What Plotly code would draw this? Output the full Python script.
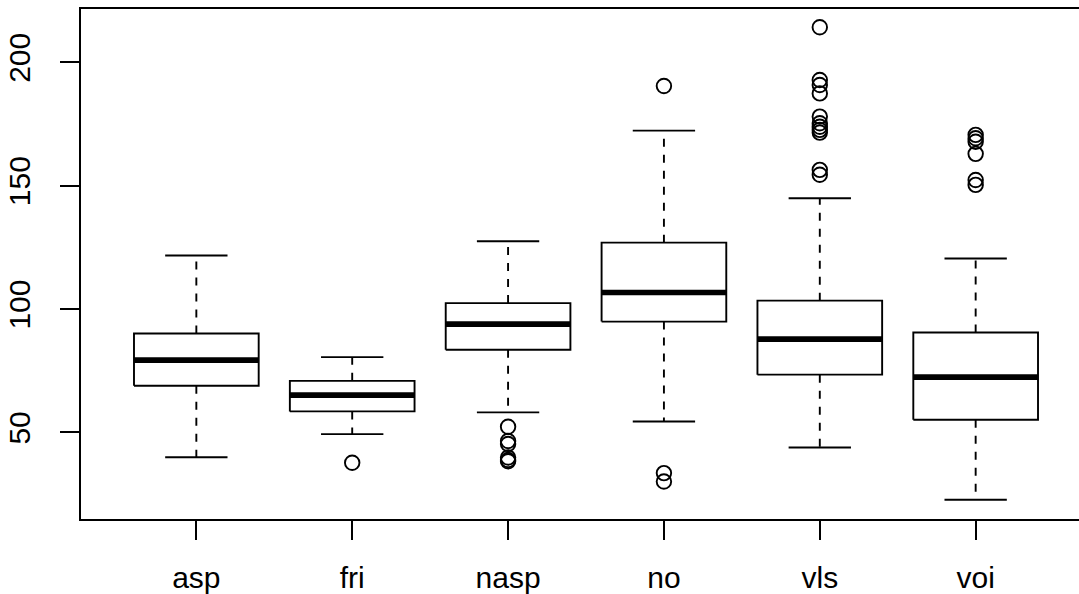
import plotly.graph_objects as go

categories = ["asp", "fri", "nasp", "no", "vls", "voi"]
lower_whisker = [39.9, 49.3, 58.1, 54.4, 43.9, 22.7]
q1 = [68.9, 58.5, 83.5, 94.9, 73.4, 55.1]
median = [79.3, 65.1, 93.9, 106.7, 87.8, 72.4]
q3 = [90.1, 70.9, 102.4, 126.9, 103.4, 90.5]
upper_whisker = [121.7, 80.5, 127.5, 172.3, 144.9, 120.5]
outliers = {
    "asp": [],
    "fri": [37.7],
    "nasp": [52.3, 46.5, 45.3, 39.8, 38.8, 38.3],
    "no": [190.4, 33.5, 30.1],
    "vls": [214.2, 192.8, 190.8, 187.4, 178.0, 175.3, 173.9, 172.6, 171.5, 156.4, 154.4],
    "voi": [170.6, 169.2, 167.8, 162.9, 152.3, 150.3],
}
y_ticks = [50, 100, 150, 200]

BOXWEX = 0.8
STAPLE = 0.4
LW = 1.9
BLACK = "#000000"

fig = go.Figure()

for i, cat in enumerate(categories):
    x = i + 1
    hw = BOXWEX / 2
    sw = STAPLE / 2
    fig.add_trace(go.Scatter(x=[x, x], y=[q3[i], upper_whisker[i]], mode="lines",
                             line=dict(color=BLACK, width=LW, dash="8px,8px"),
                             showlegend=False, hoverinfo="skip"))
    fig.add_trace(go.Scatter(x=[x, x], y=[q1[i], lower_whisker[i]], mode="lines",
                             line=dict(color=BLACK, width=LW, dash="8px,8px"),
                             showlegend=False, hoverinfo="skip"))
    fig.add_trace(go.Scatter(x=[x - sw, x + sw, None, x - sw, x + sw],
                             y=[upper_whisker[i], upper_whisker[i], None, lower_whisker[i], lower_whisker[i]],
                             mode="lines", line=dict(color=BLACK, width=LW),
                             showlegend=False, hoverinfo="skip"))
    fig.add_trace(go.Scatter(x=[x - hw, x + hw, x + hw, x - hw, x - hw],
                             y=[q1[i], q1[i], q3[i], q3[i], q1[i]],
                             mode="lines", fill="toself", fillcolor="white",
                             line=dict(color=BLACK, width=LW),
                             showlegend=False, hoverinfo="skip"))
    fig.add_trace(go.Scatter(x=[x - hw, x + hw], y=[median[i], median[i]], mode="lines",
                             line=dict(color=BLACK, width=5.6),
                             showlegend=False, hoverinfo="skip"))

ox, oy = [], []
for i, cat in enumerate(categories):
    for v in outliers[cat]:
        ox.append(i + 1)
        oy.append(v)
fig.add_trace(go.Scatter(x=ox, y=oy, mode="markers",
                         marker=dict(symbol="circle-open", size=14.5, color=BLACK,
                                     line=dict(width=1.9, color=BLACK)),
                         showlegend=False, hoverinfo="skip"))

font = dict(family="Liberation Sans, Arial, sans-serif", size=30, color=BLACK)

# The original R device is slightly wider than the captured picture: its right
# frame edge lies beyond the visible area, so the figure is made wider and clipped.
fig.update_layout(
    width=1091, height=594,
    margin=dict(l=81, r=0, t=9, b=75, autoexpand=False),
    paper_bgcolor="white", plot_bgcolor="white",
    font=font,
    xaxis=dict(range=[0.26, 6.74], tickmode="array",
               tickvals=list(range(1, len(categories) + 1)), ticktext=categories,
               showgrid=False, zeroline=False, showline=True, linecolor=BLACK,
               linewidth=LW, mirror=True, ticks="outside", ticklen=19,
               tickwidth=LW, tickcolor=BLACK, tickfont=font, ticklabelstandoff=12),
    yaxis=dict(range=[14.9, 221.6], tickmode="array", tickvals=y_ticks,
               ticktext=[str(t) for t in y_ticks],
               showgrid=False, zeroline=False, showline=True, linecolor=BLACK,
               linewidth=LW, mirror=True, ticks="outside", ticklen=19,
               tickwidth=LW, tickcolor=BLACK, tickfont=font, tickangle=-90,
               ticklabelstandoff=18),
)

fig.write_html("out.html", config={"displayModeBar": False, "staticPlot": True},
               post_script="document.body.style.margin='0';document.body.style.overflow='hidden';")
